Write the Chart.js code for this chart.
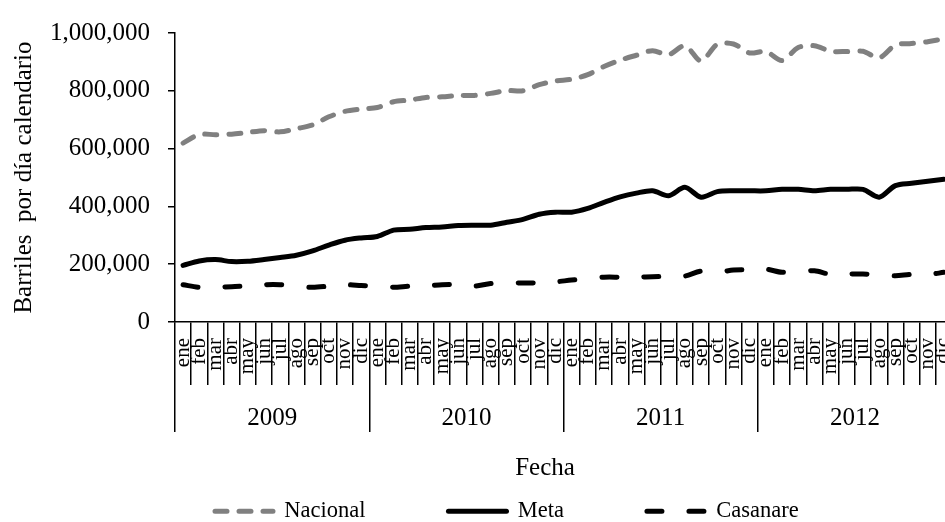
<!DOCTYPE html>
<html lang="es">
<head>
<meta charset="utf-8">
<title>Producción de petróleo 2009-2012</title>
<script src="https://cdn.jsdelivr.net/npm/chart.js@4.4.1/dist/chart.umd.min.js"></script>
<style>
  html, body { margin:0; padding:0; background:#fff; overflow:hidden; }
  /* el gráfico original está recortado a la derecha: el lienzo es algo más ancho que la ventana */
  #wrap { position:relative; width:952px; height:522px; }
</style>
</head>
<body>
<div id="wrap"><canvas id="chart"></canvas></div>
<script>
/*
  Producción de crudo (barriles por día calendario)
  Nacional, Meta y Casanare, ene 2009 - dic 2012
*/

const MESES = ["ene","feb","mar","abr","may","jun","jul","ago","sep","oct","nov","dic"];
const ANIOS = ["2009","2010","2011","2012"];

const NACIONAL = [
  619000, 649000, 648000, 650000, 656000, 662000, 658000, 669000, 682000, 710000, 729000, 737000,
  742000, 762000, 768000, 777000, 779000, 784000, 784000, 791000, 801000, 800000, 821000, 834000,
  840000, 856000, 884000, 906000, 923000, 939000, 925000, 956000, 903000, 961000, 962000, 931000,
  936000, 905000, 950000, 956000, 937000, 936000, 937000, 914000, 958000, 964000, 970000, 980000
];
const META = [
  196000, 211000, 216000, 209000, 210000, 216000, 223000, 231000, 246000, 266000, 283000, 291000,
  296000, 318000, 321000, 327000, 329000, 334000, 335000, 335000, 345000, 355000, 373000, 380000,
  380000, 393000, 414000, 433000, 446000, 454000, 437000, 466000, 432000, 451000, 454000, 454000,
  454000, 459000, 459000, 454000, 459000, 459000, 459000, 432000, 472000, 480000, 487000, 494000
];
const CASANARE = [
  129000, 120000, 121000, 122000, 126000, 129000, 129000, 124000, 120000, 124000, 129000, 126000,
  123000, 120000, 124000, 125000, 129000, 130000, 124000, 133000, 134000, 135000, 135000, 139000,
  145000, 150000, 155000, 155000, 155000, 157000, 158000, 159000, 176000, 172000, 180000, 181000,
  183000, 172000, 174000, 177000, 165000, 166000, 166000, 163000, 160000, 165000, 164000, 172000
];

const Y_MAX = 1000000;
const Y_PASO = 200000;

const fmt = new Intl.NumberFormat("en-US");
const ETIQUETAS = ANIOS.flatMap(() => MESES);

// leyenda: x del primer trazo, y de la fila, separación entre items
const LEYENDA_X = 215;
const LEYENDA_Y = 500;
const LEYENDA_PAD = 83;
// centro del título "Fecha" (en el original no está centrado en el eje)
const FECHA_X = 545;

Chart.defaults.font.family = "'Liberation Serif', 'Times New Roman', serif";
Chart.defaults.color = "#000";

// Chart.js usa el mismo padding en horizontal y vertical; se recolocan leyenda y título después del layout
const ajustes = {
  id: "ajustes",
  afterLayout(chart){
    const lg = chart.legend;
    lg.left = LEYENDA_X - LEYENDA_PAD;
    lg.top = LEYENDA_Y - LEYENDA_PAD;

    const s = chart.scales.x2;
    const dx = FECHA_X - (s.left + s.right) / 2;
    s.left += dx;
    s.right += dx;
  }
};

function serie(label, data, color, dash){
  return {
    label,
    data,
    borderColor: color,
    backgroundColor: color,
    borderWidth: 5,
    borderDash: dash,
    borderCapStyle: "round",
    borderJoinStyle: "round",
    pointRadius: 0,
    tension: 0.3,
    fill: false
  };
}

const AXIS = { color: "#000", width: 1.5 };

new Chart(document.getElementById("chart"), {
  type: "line",
  data: {
    labels: ETIQUETAS,
    datasets: [
      serie("Nacional", NACIONAL, "#808080", [12, 12]),
      serie("Meta", META, "#000000", []),
      serie("Casanare", CASANARE, "#000000", [15, 27])
    ]
  },
  plugins: [ajustes],
  options: {
    responsive: true,
    maintainAspectRatio: false,
    animation: false,
    events: [],
    layout: { padding: { top: 20, left: 0, right: 0, bottom: 0 } },
    plugins: {
      tooltip: { enabled: false },
      legend: {
        position: "bottom",
        align: "start",
        maxHeight: 42.5,
        labels: {
          usePointStyle: true,
          pointStyleWidth: 58,
          padding: LEYENDA_PAD,
          font: { size: 22.5 },
          color: "#000",
          generateLabels(chart){
            return chart.data.datasets.map((ds, i) => ({
              text: ds.label,
              datasetIndex: i,
              fillStyle: ds.borderColor,
              strokeStyle: ds.borderColor,
              lineWidth: ds.borderWidth,
              lineDash: ds.borderDash,
              lineCap: "round",
              pointStyle: "line",
              fontColor: "#000"
            }));
          }
        }
      }
    },
    scales: {
      x: {
        weight: 1,
        offset: true,
        grid: { offset: true, drawOnChartArea: false, tickLength: 63, color: AXIS.color, lineWidth: AXIS.width },
        border: { color: AXIS.color, width: AXIS.width },
        ticks: { autoSkip: false, minRotation: 90, maxRotation: 90, padding: -47, font: { size: 21 } },
        afterFit(s){ s.height = 63; }
      },
      x2: {
        type: "category",
        position: "bottom",
        weight: 2,
        labels: ANIOS,
        offset: true,
        grid: { offset: true, drawOnChartArea: false, tickLength: 47, color: AXIS.color, lineWidth: AXIS.width },
        border: { display: false },
        ticks: { padding: -28.5, font: { size: 25 } },
        title: { display: true, text: "Fecha", font: { size: 25 }, padding: { top: 0, bottom: -3.5 } },
        afterFit(s){ s.height = 94.5; }
      },
      y: {
        min: 0,
        max: Y_MAX,
        grid: { drawOnChartArea: false, tickLength: 7, color: AXIS.color, lineWidth: AXIS.width },
        border: { color: AXIS.color, width: AXIS.width },
        ticks: { stepSize: Y_PASO, padding: 18, font: { size: 25 }, callback: v => fmt.format(v) },
        title: { display: true, text: "Barriles  por día calendario", font: { size: 25 }, padding: { top: 9, bottom: 0 } },
        afterFit(s){ s.width = 175; }
      }
    }
  }
});
</script>
</body>
</html>
